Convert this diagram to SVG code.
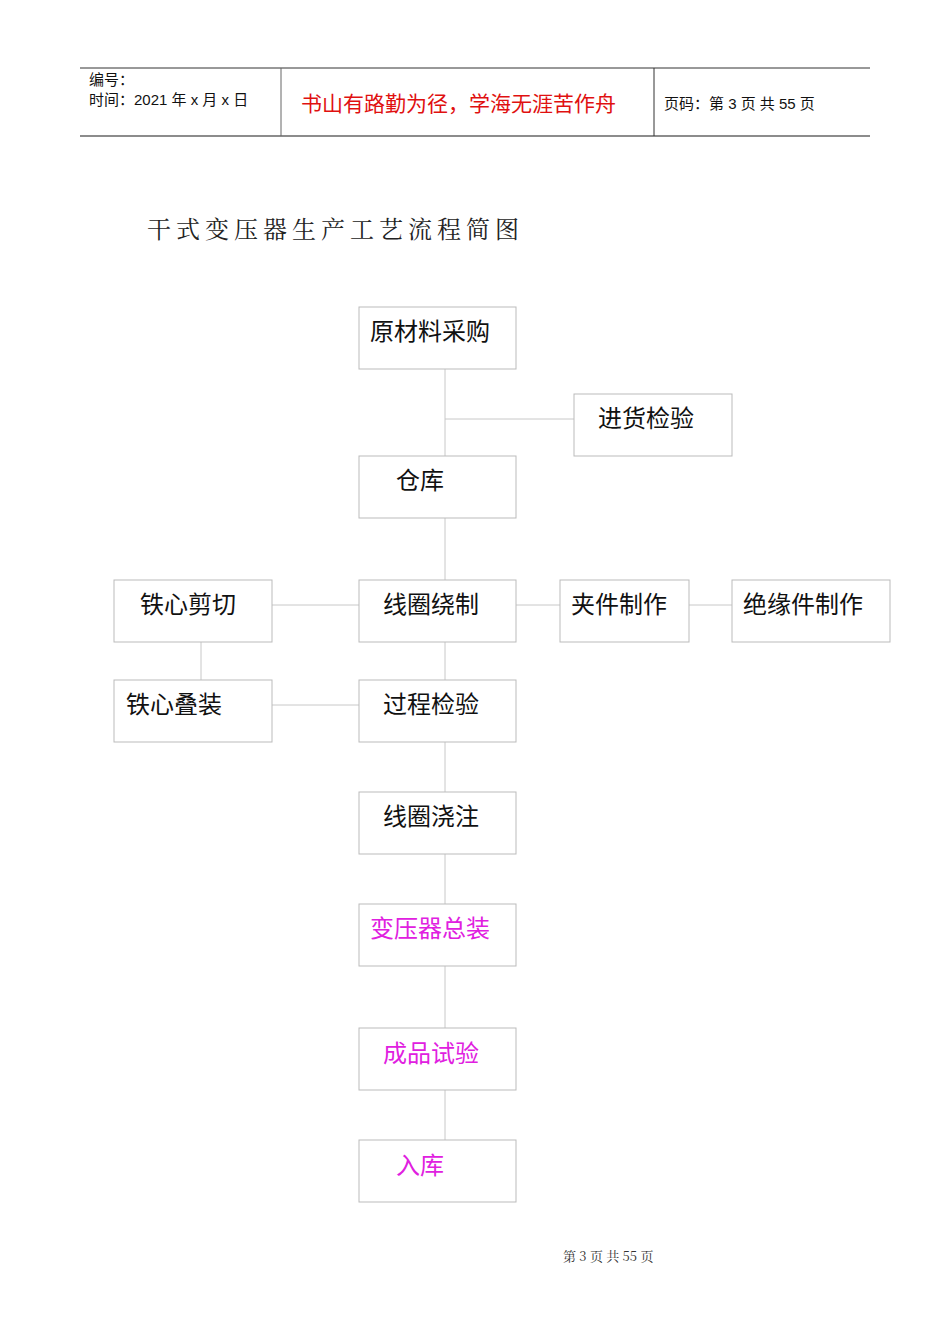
<svg xmlns="http://www.w3.org/2000/svg" width="950" height="1344" viewBox="0 0 950 1344">
<style>
.b{fill:#fff;stroke:#bbb;stroke-width:1}
.t{font-family:"Noto Sans CJK SC","Liberation Sans",sans-serif;font-size:24px;fill:#111}
.m{fill:#e020e0}
.c{stroke:#c8c8c8;stroke-width:1;fill:none}
.h{font-family:"Liberation Sans","Noto Sans CJK SC",sans-serif;font-size:15px;fill:#111}
</style>
<rect width="950" height="1344" fill="#fff"/>
<g id="header">
<line x1="80" y1="68" x2="870" y2="68" stroke="#333"/>
<line x1="80" y1="136" x2="870" y2="136" stroke="#666" stroke-width="1.5"/>
<line x1="281" y1="68" x2="281" y2="136" stroke="#666"/>
<line x1="654" y1="68" x2="654" y2="136" stroke="#333"/>
<text class="h" x="89" y="85">编号：</text>
<text class="h" x="89" y="105">时间：2021 年 x 月 x 日</text>
<text x="301" y="111" font-family="Noto Sans CJK SC,sans-serif" font-size="21" fill="#e01010">书山有路勤为径，学海无涯苦作舟</text>
<text class="h" x="664" y="109">页码：第 3 页  共 55 页</text>
</g>
<text x="147" y="238" font-family="Noto Serif CJK SC,Noto Sans CJK SC,serif" font-size="24" letter-spacing="5" fill="#222">干式变压器生产工艺流程简图</text>
<g id="connectors" class="c">
<line x1="445" y1="369" x2="445" y2="1140"/>
<line x1="445" y1="419" x2="574" y2="419"/>
<line x1="272" y1="605" x2="359" y2="605"/>
<line x1="516" y1="605" x2="560" y2="605"/>
<line x1="689" y1="605" x2="732" y2="605"/>
<line x1="272" y1="705" x2="359" y2="705"/>
<line x1="201" y1="642" x2="201" y2="680"/>
</g>
<g id="n1"><rect class="b" x="359" y="307" width="157" height="62"/><text class="t" x="370" y="340">原材料采购</text></g>
<g id="n2"><rect class="b" x="574" y="394" width="158" height="62"/><text class="t" x="598" y="427">进货检验</text></g>
<g id="n3"><rect class="b" x="359" y="456" width="157" height="62"/><text class="t" x="396" y="489">仓库</text></g>
<g id="n4"><rect class="b" x="114" y="580" width="158" height="62"/><text class="t" x="140" y="613">铁心剪切</text></g>
<g id="n5"><rect class="b" x="359" y="580" width="157" height="62"/><text class="t" x="383" y="613">线圈绕制</text></g>
<g id="n6"><rect class="b" x="560" y="580" width="129" height="62"/><text class="t" x="571" y="613">夹件制作</text></g>
<g id="n7"><rect class="b" x="732" y="580" width="158" height="62"/><text class="t" x="743" y="613">绝缘件制作</text></g>
<g id="n8"><rect class="b" x="114" y="680" width="158" height="62"/><text class="t" x="126" y="713">铁心叠装</text></g>
<g id="n9"><rect class="b" x="359" y="680" width="157" height="62"/><text class="t" x="383" y="713">过程检验</text></g>
<g id="n10"><rect class="b" x="359" y="792" width="157" height="62"/><text class="t" x="383" y="825">线圈浇注</text></g>
<g id="n11"><rect class="b" x="359" y="904" width="157" height="62"/><text class="t m" x="370" y="937">变压器总装</text></g>
<g id="n12"><rect class="b" x="359" y="1028" width="157" height="62"/><text class="t m" x="383" y="1062">成品试验</text></g>
<g id="n13"><rect class="b" x="359" y="1140" width="157" height="62"/><text class="t m" x="396" y="1174">入库</text></g>
<text x="563" y="1261" font-family="Noto Serif CJK SC,Liberation Serif,serif" font-size="13" fill="#333">第 3 页 共 55 页</text>
</svg>
